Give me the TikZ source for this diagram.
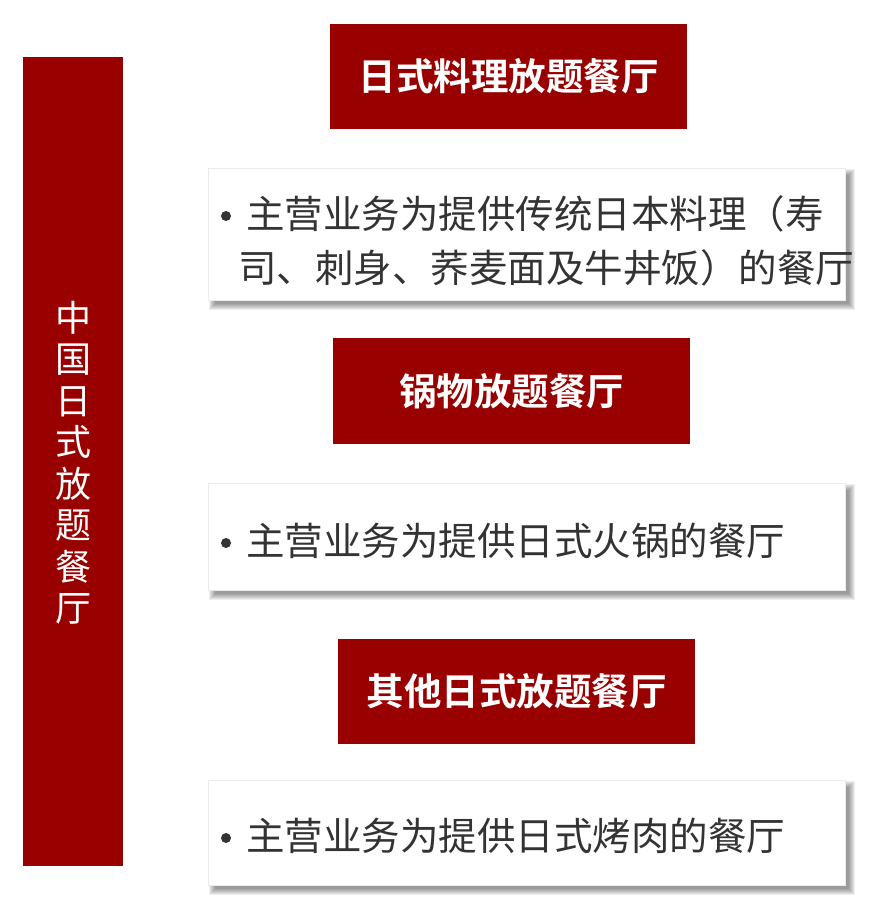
\documentclass[tikz,border=0pt]{standalone}
\usepackage{fontspec}
\setmainfont{Noto Sans CJK SC}
\newfontfamily\cjkb{Noto Sans CJK SC Bold}
\usetikzlibrary{calc}
\definecolor{darkred}{HTML}{990000}
\definecolor{txtgray}{HTML}{333333}
\tikzset{
  redbox/.style={fill=darkred, draw=none, inner sep=0pt, text=white},
  whitebox/.style={fill=white, draw=black!8, line width=0.6pt, inner sep=0pt},
  titletext/.style={text=white, font=\cjkb\fontsize{37.5}{40}\selectfont, inner sep=0pt},
  bodytext/.style={text=txtgray, font=\fontsize{38.5}{53}\selectfont, inner sep=0pt, align=left},
  bulletdot/.style={circle, fill=txtgray, draw=none, inner sep=0pt, minimum size=10pt}
}
\begin{document}
\begin{tikzpicture}[x=1pt,y=-1pt]
\useasboundingbox (0,0) rectangle (880,909);
\fill[white] (0,0) rectangle (880,909);

% left bar
\node[redbox, minimum width=100pt, minimum height=809pt, anchor=north west] (bar) at (23,57) {};
\node[text=white, font=\fontsize{36}{41.5}\selectfont, align=center, inner sep=0pt] (bartext) at ($(bar.center)+(0,1)$)
  {中\\国\\日\\式\\放\\题\\餐\\厅};

% white boxes with shadows
\node[minimum width=637pt, minimum height=132pt, anchor=north west, inner sep=0pt] (w1) at (208,168) {};
\node[minimum width=637pt, minimum height=107pt, anchor=north west, inner sep=0pt] (w2) at (208,483) {};
\node[minimum width=637pt, minimum height=105pt, anchor=north west, inner sep=0pt] (w3) at (208,780) {};
\foreach \w in {w1,w2,w3}{
  \foreach \k in {1,...,7}{
    \fill[black, opacity=0.065] ($(\w.north west)+(\k,\k)$) rectangle ($(\w.south east)+(11-\k,11-\k)$);
  }
  \filldraw[whitebox] (\w.north west) rectangle (\w.south east);
}

% title boxes
\node[redbox, minimum width=357pt, minimum height=105pt, anchor=north west] (t1) at (330,24) {};
\node[titletext] (t1text) at (t1.center) {日式料理放题餐厅};
\node[redbox, minimum width=357pt, minimum height=106pt, anchor=north west] (t2) at (333,338) {};
\node[titletext] (t2text) at (t2.center) {锅物放题餐厅};
\node[redbox, minimum width=357pt, minimum height=105pt, anchor=north west] (t3) at (338,639) {};
\node[titletext] (t3text) at (t3.center) {其他日式放题餐厅};

% body texts
\node[bulletdot] (b1) at (226,216) {};
\node[bodytext, anchor=west] (l1a) at (246,214) {主营业务为提供传统日本料理（寿};
\node[bodytext, anchor=west] (l1b) at (238,268) {司、刺身、荞麦面及牛丼饭）的餐厅};

\node[bulletdot] (b2) at (226,543) {};
\node[bodytext, anchor=west] (l2) at (246,541) {主营业务为提供日式火锅的餐厅};

\node[bulletdot] (b3) at (226,838) {};
\node[bodytext, anchor=west] (l3) at (246,836) {主营业务为提供日式烤肉的餐厅};
\end{tikzpicture}
\end{document}
